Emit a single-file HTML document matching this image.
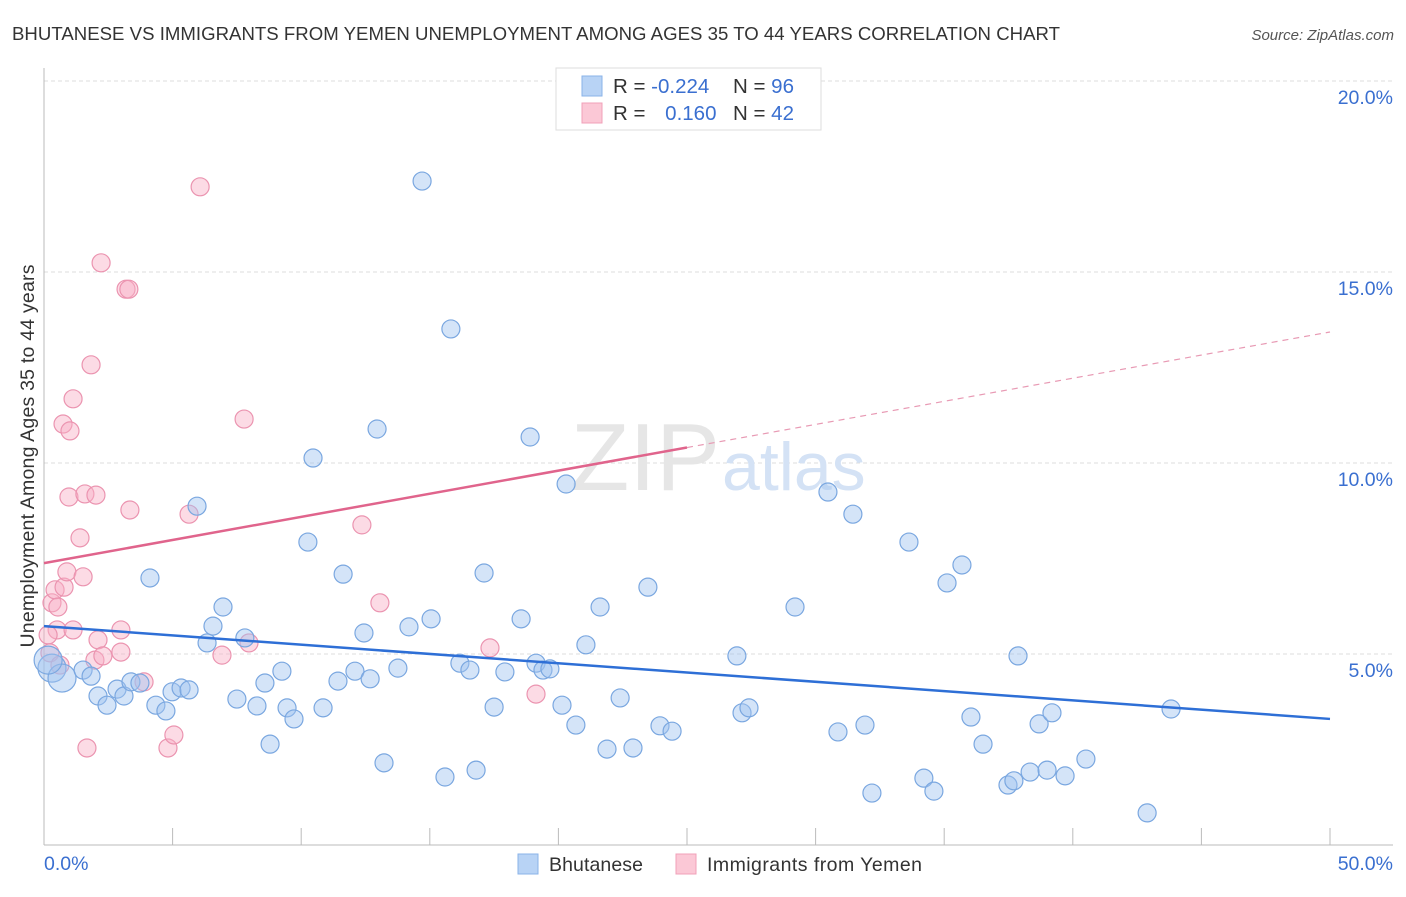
<!DOCTYPE html>
<html><head><meta charset="utf-8"><style>
body{margin:0;background:#fff;font-family:"Liberation Sans",sans-serif;}
svg text{font-family:"Liberation Sans",sans-serif;}
</style></head><body>
<svg id="chart" width="1406" height="892" xmlns="http://www.w3.org/2000/svg">
<text x="12" y="40" font-size="18.6" fill="#333" textLength="1048">BHUTANESE VS IMMIGRANTS FROM YEMEN UNEMPLOYMENT AMONG AGES 35 TO 44 YEARS CORRELATION CHART</text>
<text x="1394" y="40" font-size="15" fill="#555" font-style="italic" text-anchor="end">Source: ZipAtlas.com</text>
<g id="grid"></g>
<text x="720" y="490" font-size="96" font-family="Liberation Serif" fill="#e6e6e6" text-anchor="end">ZIP</text>
<text x="722" y="490" font-size="68" fill="#d4e2f5">atlas</text>
<line x1="44" y1="68" x2="44" y2="845" stroke="#bbb"/>
<line x1="44" y1="845" x2="1393" y2="845" stroke="#bbb"/>
<g id="xticks"></g>
<g id="ylabels"></g>
<text x="44" y="870" font-size="19.5" fill="#3a6fd0">0.0%</text>
<text x="1393" y="870" font-size="19.5" fill="#3a6fd0" text-anchor="end">50.0%</text>
<text transform="translate(34,456) rotate(-90)" font-size="19.5" fill="#333" text-anchor="middle" textLength="383">Unemployment Among Ages 35 to 44 years</text>
<g id="pinkpts"></g>
<g id="bluepts"></g>
<g id="trends"></g>
<g>
<rect x="556" y="68" width="265" height="62" fill="#fff" stroke="#ddd"/>
<rect x="582" y="76" width="20" height="20" fill="#b8d3f5" stroke="#8ab3e8"/>
<rect x="582" y="103" width="20" height="20" fill="#fbc8d6" stroke="#f0a0b8"/>
<text x="613" y="93" font-size="20.5" fill="#333">R = <tspan fill="#3a6fd0">-0.224</tspan></text>
<text x="733" y="93" font-size="20.5" fill="#333">N = <tspan fill="#3a6fd0">96</tspan></text>
<text x="613" y="120" font-size="20.5" fill="#333">R = <tspan fill="#3a6fd0" dx="14">0.160</tspan></text>
<text x="733" y="120" font-size="20.5" fill="#333">N = <tspan fill="#3a6fd0">42</tspan></text>
</g>
<g>
<rect x="518" y="854" width="20" height="20" fill="#b8d3f5" stroke="#8ab3e8"/>
<text x="549" y="871" font-size="19.5" fill="#333" textLength="94">Bhutanese</text>
<rect x="676" y="854" width="20" height="20" fill="#fbc8d6" stroke="#f0a0b8"/>
<text x="707" y="871" font-size="19.5" fill="#333" textLength="215">Immigrants from Yemen</text>
</g>
</svg>
<script>
const yTicks=[5,10,15,20];
const yTickLabels=["5.0%","10.0%","15.0%","20.0%"];
const xTickVals=[5,10,15,20,25,30,35,40,45,50];
const blueX=[0.31,0.7,0.16,1.52,1.83,2.1,2.45,2.84,3.11,3.38,3.73,4.12,4.35,4.74,4.98,5.33,5.64,5.95,6.34,6.57,6.96,7.5,7.81,8.28,8.59,8.79,9.25,9.45,9.72,10.26,10.46,10.85,11.43,11.63,12.09,12.44,12.68,12.95,13.22,13.76,14.19,15.05,15.59,15.82,14.7,16.17,16.56,16.8,17.11,17.5,17.92,18.55,18.9,19.13,19.4,19.67,20.14,20.3,20.68,21.07,21.62,21.89,22.4,22.9,23.48,23.95,24.42,26.94,27.14,27.41,29.2,30.48,30.87,31.45,31.92,32.19,33.63,34.21,34.6,35.11,35.69,36.04,36.51,37.48,37.71,37.87,38.34,38.69,39.0,39.19,39.7,40.51,42.89,43.82];
const blueY=[4.63,4.37,4.84,4.58,4.42,3.9,3.66,4.08,3.9,4.27,4.24,6.99,3.66,3.51,4.01,4.11,4.06,8.87,5.29,5.73,6.23,3.82,5.42,3.64,4.24,2.64,4.55,3.59,3.3,7.93,10.13,3.59,4.29,7.09,4.55,5.55,4.35,10.89,2.15,4.63,5.71,5.92,1.78,13.51,17.38,4.76,4.58,1.96,7.12,3.61,4.53,5.92,10.68,4.76,4.58,4.61,3.66,9.45,3.14,5.24,6.23,2.51,3.85,2.54,6.75,3.12,2.98,4.95,3.46,3.59,6.23,9.24,2.96,8.66,3.14,1.36,7.93,1.75,1.41,6.86,7.33,3.35,2.64,1.57,1.68,4.95,1.91,3.17,1.96,3.46,1.81,2.25,0.84,3.56];
const pinkX=[0.23,0.31,0.43,0.54,0.51,0.78,0.89,0.62,0.74,1.01,1.13,0.97,1.4,1.52,1.59,1.83,2.02,2.1,1.98,2.22,2.29,1.67,2.99,2.99,3.19,3.3,3.34,3.89,4.82,5.05,5.64,6.07,6.92,7.78,7.97,12.36,13.06,17.34,19.13,1.13,0.16];
const pinkY=[5.03,6.34,6.68,6.23,5.63,6.75,7.15,4.71,11.02,10.84,11.68,9.11,8.04,7.02,9.19,12.57,9.16,5.37,4.84,15.24,4.95,2.54,5.63,5.05,14.55,14.55,8.77,4.27,2.54,2.88,8.66,17.23,4.97,11.15,5.29,8.38,6.34,5.16,3.95,5.63,5.5];
const blueTrend=[5.73,3.30];
const pinkTrend=[7.38,13.43];
const pinkSolidEnd=25;
const X=v=>44+v*25.72, Y=v=>845-v*38.2;
const NS="http://www.w3.org/2000/svg";
function mk(tag,attrs,parent){const e=document.createElementNS(NS,tag);for(const k in attrs)e.setAttribute(k,attrs[k]);parent.appendChild(e);return e;}
const grid=document.getElementById('grid'),yl=document.getElementById('ylabels');
yTicks.forEach((t,i)=>{
 const l=mk('line',{x1:44,x2:1393,y1:Y(t),y2:Y(t),stroke:'#ddd','stroke-dasharray':'4,3'},grid);
 
 
 const tx=mk('text',{x:1393,y:Y(t)+23,'font-size':19.5,fill:'#3a6fd0','text-anchor':'end'},yl);
 tx.textContent=yTickLabels[i];
 
 
});
const xt=document.getElementById('xticks');
xTickVals.forEach(v=>{
 const l=mk('line',{x1:X(v),x2:X(v),y1:828,y2:845,stroke:'#bbb'},xt);
 
 
});
function dots(xs,ys,g,fill,stroke,name){
 xs.forEach((x,i)=>{
  const r=(x<0.8&&g.id==='bluepts')?14:9;
  const c=mk('circle',{cx:X(x),cy:Y(ys[i]),r:r,fill:fill,stroke:stroke,'stroke-width':1.2},g);
  
  
 });
}
dots(pinkX,pinkY,document.getElementById('pinkpts'),'rgba(248,175,198,0.45)','#eb94b0','yemen-point');
dots(blueX,blueY,document.getElementById('bluepts'),'rgba(160,196,240,0.45)','#7aa7e0','bhutanese-point');
const tr=document.getElementById('trends');
const bl=mk('line',{x1:X(0),y1:Y(blueTrend[0]),x2:X(50),y2:Y(blueTrend[1]),stroke:'#2e6fd6','stroke-width':2.5},tr);


const pAt=v=>pinkTrend[0]+(pinkTrend[1]-pinkTrend[0])*v/50;
const ps=mk('line',{x1:X(0),y1:Y(pAt(0)),x2:X(pinkSolidEnd),y2:Y(pAt(pinkSolidEnd)),stroke:'#e0648c','stroke-width':2.5},tr);


const pd=mk('line',{x1:X(pinkSolidEnd),y1:Y(pAt(pinkSolidEnd)),x2:X(50),y2:Y(pAt(50)),stroke:'#e89ab4','stroke-width':1.2,'stroke-dasharray':'6,5'},tr);


</script>
</body></html>
